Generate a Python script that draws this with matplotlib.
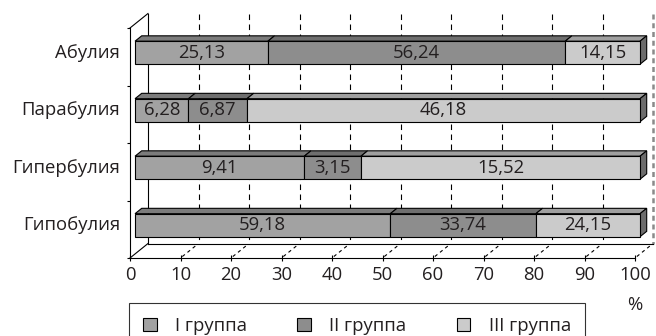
import matplotlib
matplotlib.use('Agg')
import matplotlib.pyplot as plt
from matplotlib.transforms import Affine2D, IdentityTransform
from matplotlib.patches import Polygon, Patch

categories = ['Абулия', 'Парабулия', 'Гипербулия', 'Гипобулия']
series_names = ['I группа', 'II группа', 'III группа']
group1 = [25.13, 6.28, 9.41, 59.18]
group2 = [56.24, 6.87, 3.15, 33.74]
group3 = [14.15, 46.18, 15.52, 24.15]
x_ticks = [0, 10, 20, 30, 40, 50, 60, 70, 80, 90, 100]

front_colors = ['#a2a2a2', '#8d8d8d', '#cbcbcb']
top_colors = ['#7c7c7c', '#6f6f6f', '#a0a0a0']
side_color = '#6c6c6c'

plt.rcParams['font.family'] = ['Open Sans', 'DejaVu Sans']
FS = 13.3
TXT = '#231f20'

W, H = 656, 336
fig = plt.figure(figsize=(W / 100, H / 100), dpi=100)
ax = fig.add_axes([130 / W, 1 - 258 / H, 505 / W, 230 / H])
ax.set_xlim(0, 100)
ax.set_ylim(3.5, -0.5)
ax.autoscale(False)

DX, DY = 18.0, 14.5
D1, D2 = 0.28, 0.65
BH = 0.4


def shifted(d, ox=0.0, oy=0.0):
    return ax.transData + Affine2D().translate(DX * d + ox, DY * d + oy)


def P(x, y, d):
    px, py = ax.transData.transform((x, y))
    return (px + DX * d, py + DY * d)


ident = IdentityTransform()

# back wall gridlines
for xv in x_ticks[1:-1]:
    ax.plot([xv, xv], [-0.5, 3.5], transform=shifted(1), color='black', lw=0.8,
            dashes=(5, 4), clip_on=False, zorder=1)
ax.plot([100, 100], [-0.5, 3.5], transform=shifted(1), color='#8a8a8a', lw=1.8,
        dashes=(2, 1.5), clip_on=False, zorder=1)
ax.plot([0, 0], [-0.5, 3.5], transform=shifted(1), color='black', lw=0.8,
        clip_on=False, zorder=1)
ax.plot([0, 100], [3.5, 3.5], transform=shifted(1), color='black', lw=0.8,
        clip_on=False, zorder=1)

# depth edges at left
for yv in (-0.5, 3.5):
    a, b = P(0, yv, 0), P(0, yv, 1)
    ax.plot([a[0], b[0]], [a[1], b[1]], transform=ident, color='black', lw=0.8,
            clip_on=False, zorder=1)
# floor dashed diagonals
for xv in x_ticks[1:]:
    a, b = P(xv, 3.5, 0.1), P(xv, 3.5, 0.95)
    ax.plot([a[0], b[0]], [a[1], b[1]], transform=ident, color='black', lw=0.8,
            dashes=(3, 3), clip_on=False, zorder=1)

# bars
series = [group1, group2, group3]
for i, cat in enumerate(categories):
    vals = [s[i] for s in series]
    tot = sum(vals)
    left = 0.0
    ytop = i - BH / 2
    ybot = i + BH / 2
    for j, v in enumerate(vals):
        w = v / tot * 100
        top = Polygon([P(left, ytop, D1), P(left + w, ytop, D1), P(left + w, ytop, D2),
                       P(left, ytop, D2)], closed=True, transform=ident,
                      facecolor=top_colors[j], edgecolor='black', lw=0.8,
                      clip_on=False, zorder=3)
        ax.add_patch(top)
        ax.barh(i, w, left=left, height=BH, color=front_colors[j], edgecolor='black',
                lw=0.8, transform=shifted(D1), clip_on=False, zorder=4)
        ax.text(left + w / 2, i, f'{v:.2f}'.replace('.', ','), transform=shifted(D1),
                ha='center', va='center', fontsize=FS, color=TXT, zorder=5)
        left += w
    side = Polygon([P(100, ytop, D1), P(100, ybot, D1), P(100, ybot, D2),
                    P(100, ytop, D2)], closed=True, transform=ident,
                   facecolor=side_color, edgecolor='black', lw=0.8,
                   clip_on=False, zorder=3)
    ax.add_patch(side)
    ax.text(0, i, cat, transform=shifted(D1, -15, 0), ha='right', va='center',
            fontsize=FS, color=TXT)

# axes
for s in ('top', 'right'):
    ax.spines[s].set_visible(False)
ax.spines['left'].set_linewidth(0.8)
ax.spines['bottom'].set_linewidth(0.8)
ax.set_xticks(x_ticks)
ax.set_xticklabels([str(t) for t in x_ticks], fontsize=FS, color=TXT)
ax.set_yticks([-0.5, 0.5, 1.5, 2.5, 3.5])
ax.set_yticklabels([])
ax.tick_params(axis='x', direction='inout', length=4, width=0.8, pad=4)
ax.tick_params(axis='y', direction='out', length=2.5, width=0.8)
ax.patch.set_visible(False)

ax.annotate('%', xy=(100, 3.5), xycoords='data', xytext=(0, -47),
            textcoords='offset pixels', ha='center', va='center', fontsize=FS,
            color=TXT)

handles = [Patch(facecolor=c, edgecolor='black', lw=0.8) for c in front_colors]
leg = fig.legend(handles, series_names, ncol=3, loc='upper left',
                 bbox_to_anchor=(129 / W, 0, (585 - 129) / W, 1 - 303 / H),
                 mode='expand', borderaxespad=0, fontsize=FS, frameon=True,
                 fancybox=False, handlelength=0.75, handleheight=0.75,
                 handletextpad=1.0, borderpad=0.75, labelcolor=TXT)
leg.get_frame().set_edgecolor('black')
leg.get_frame().set_linewidth(0.8)

fig.savefig('out.png', dpi=100)
